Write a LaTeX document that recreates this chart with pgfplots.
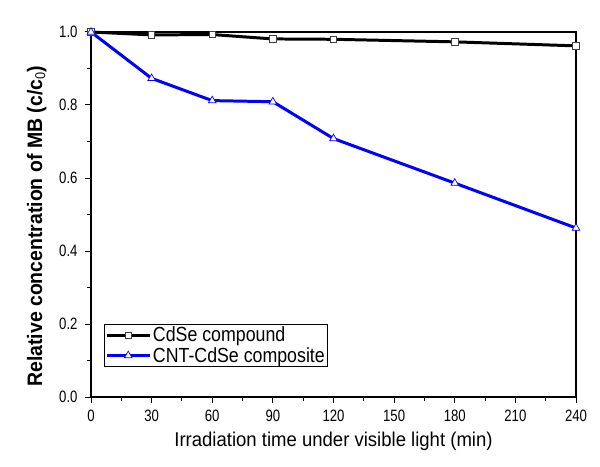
\documentclass[border=0pt]{standalone}
\usepackage{pgfplots}
\pgfplotsset{compat=1.18}
\usepackage{fontspec}
\setmainfont{Liberation Sans}
\newfontfamily\tickfont[FakeStretch=0.8]{Liberation Sans}
\newfontfamily\xlabfont[FakeStretch=0.93]{Liberation Sans}
\newfontfamily\ylabfont[FakeStretch=0.93]{Liberation Sans}
\newfontfamily\legfont[FakeStretch=0.87]{Liberation Sans}
\begin{document}
\begin{tikzpicture}[x=1bp,y=1bp]
\begin{axis}[
  scale only axis,
  width=485bp, height=365bp,
  xmin=0, xmax=240, ymin=0, ymax=1.0,
  xtick={0,30,...,240}, minor xtick={15,45,...,225},
  ytick={0,0.2,...,1.0}, minor ytick={0.1,0.3,...,0.9},
  axis x line*=bottom, axis y line*=left,
  tick align=outside,
  major tick length=6bp, minor tick length=4bp,
  every tick/.style={black, line width=1pt},
  axis line style={line width=1.3pt},
  /pgf/number format/assume math mode=true,
  yticklabel style={/pgf/number format/fixed, /pgf/number format/fixed zerofill, /pgf/number format/precision=1, xshift=-4bp},
  ticklabel style={font=\tickfont\fontsize{16.5}{18}\selectfont},
  xticklabel style={yshift=-4bp},
  xlabel={Irradiation time under visible light (min)},
  ylabel={\bfseries Relative concentration of MB (c/c$_{\mathsf{0}}$)},
  xlabel style={font=\xlabfont\fontsize{20}{22}\selectfont, yshift=-3bp},
  ylabel style={font=\ylabfont\fontsize{21}{22}\selectfont, at={(ticklabel cs:0.468)}, yshift=6bp},
  legend style={at={(0.027,0.082)}, anchor=south west, draw=black, line width=0.8pt,
    font=\legfont\fontsize{20.5}{21}\selectfont, inner sep=1pt, row sep=0pt},
  legend cell align=left,
  legend image code/.code={\draw[mark repeat=2,mark phase=2] plot coordinates {(0cm,0cm) (0.75cm,0cm) (1.5cm,0cm)};},
  clip=false,
]
\addplot[black, line width=3pt, mark=square*, mark size=3.2bp,
  mark options={fill=white, draw=black!75, line width=0.7pt}]
  coordinates {(0,1.0) (30,0.992) (60,0.993) (90,0.981) (120,0.980) (180,0.973) (240,0.962)};
\addlegendentry{CdSe compound}
\addplot[blue, line width=3pt, mark=triangle*, mark size=4.4bp,
  mark options={fill=white, draw=blue, line width=0.7pt}]
  coordinates {(0,1.0) (30,0.873) (60,0.812) (90,0.809) (120,0.708) (180,0.586) (240,0.463)};
\addlegendentry{CNT-CdSe composite}
\draw[line width=1.3pt] (rel axis cs:0,1) -- (rel axis cs:1,1) -- (rel axis cs:1,0);
\end{axis}
\path (current axis.south west) ++(-91bp,-70bp) (current axis.north east) ++(24bp,32bp);
\end{tikzpicture}
\end{document}
